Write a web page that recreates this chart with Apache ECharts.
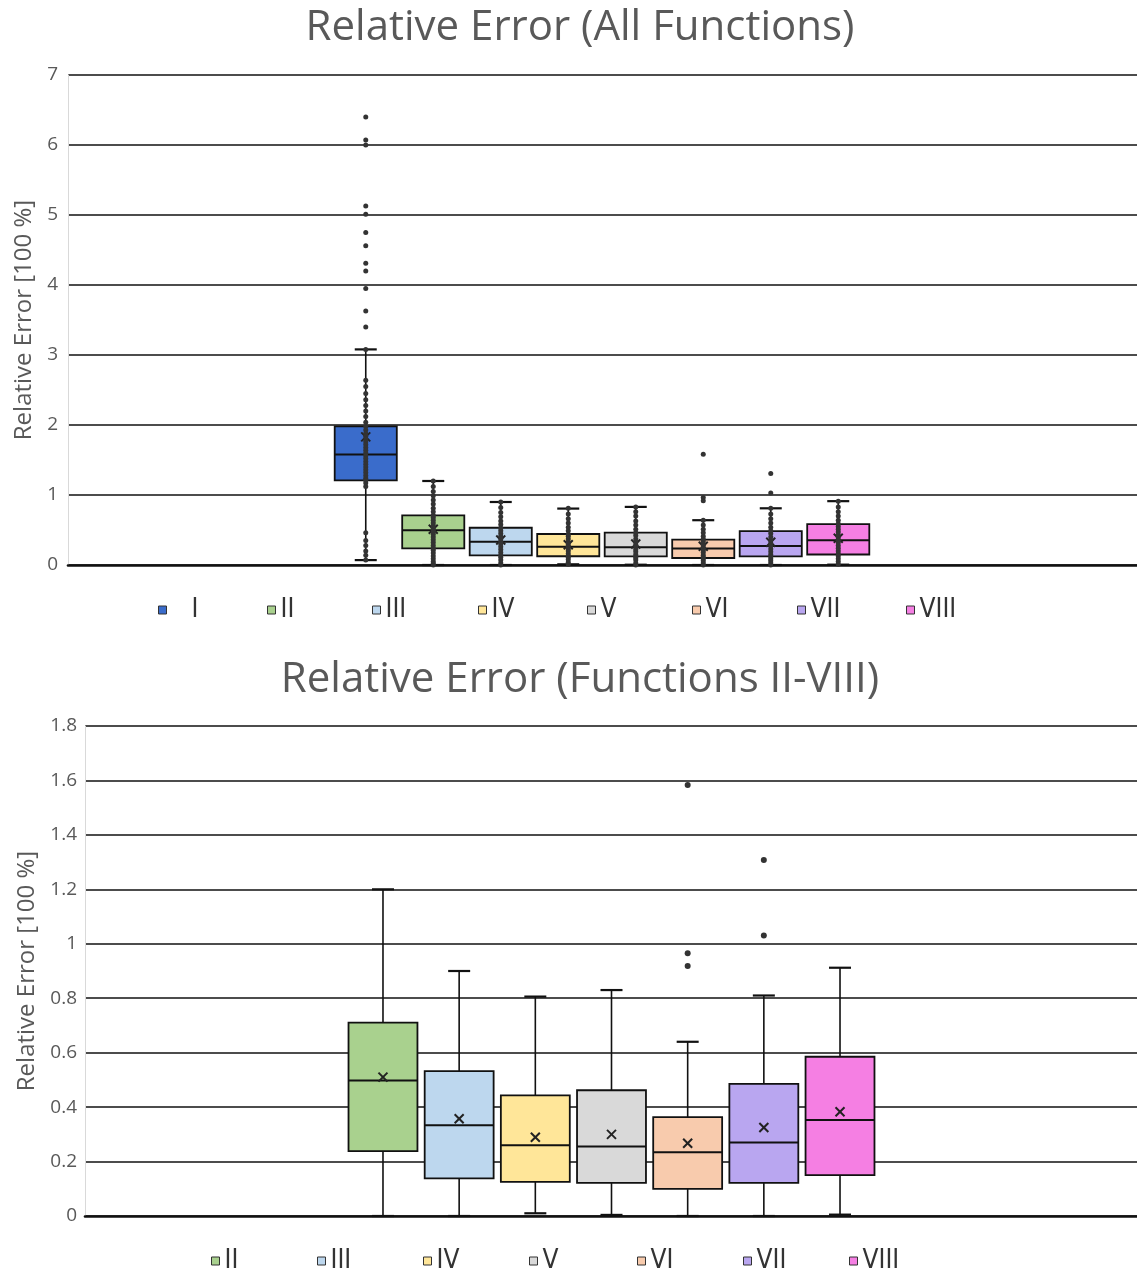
<!DOCTYPE html>
<html>
<head>
<meta charset="utf-8">
<script src="https://cdn.jsdelivr.net/npm/echarts@6/dist/echarts.min.js"></script>
<style>html,body{margin:0;padding:0;background:#fff;}#c{width:1137px;height:1273px;}</style>
</head>
<body>
<div id="c"></div>
<script>
// ---------- data ----------
const catsTop = ['I', 'II', 'III', 'IV', 'V', 'VI', 'VII', 'VIII'];
const catsBottom = ['II', 'III', 'IV', 'V', 'VI', 'VII', 'VIII'];
// [lower whisker, Q1, median, Q3, upper whisker]
const boxStats = [
  [0.07, 1.21, 1.58, 1.98, 3.08],
  [0.00, 0.238, 0.498, 0.71, 1.20],
  [0.00, 0.138, 0.333, 0.532, 0.90],
  [0.01, 0.125, 0.26, 0.443, 0.806],
  [0.004, 0.122, 0.255, 0.462, 0.83],
  [0.00, 0.10, 0.234, 0.363, 0.64],
  [0.00, 0.122, 0.27, 0.485, 0.81],
  [0.005, 0.15, 0.353, 0.585, 0.912]
];
const means = [1.83, 0.51, 0.357, 0.289, 0.30, 0.267, 0.325, 0.383];
const outliers = [
  [3.40, 3.63, 3.95, 4.20, 4.31, 4.56, 4.75, 5.01, 5.13, 6.00, 6.07, 6.40],
  [], [], [], [],
  [0.918, 0.965, 1.583],
  [1.03, 1.308],
  []
];
const innerPoints = [
  [3.08, 2.64, 2.55, 2.45, 2.36, 2.28, 2.20, 2.12, 2.04, 1.98, 1.93, 1.88, 1.84, 1.80, 1.76, 1.72, 1.68, 1.64, 1.60, 1.56, 1.52, 1.48, 1.44, 1.40, 1.36, 1.32, 1.28, 1.24, 1.21, 1.17, 1.12, 0.46, 0.35, 0.28, 0.20, 0.14, 0.07],
  [0.00, 0.02, 0.05, 0.09, 0.13, 0.17, 0.21, 0.24, 0.28, 0.32, 0.36, 0.40, 0.44, 0.47, 0.50, 0.53, 0.56, 0.60, 0.64, 0.68, 0.71, 0.76, 0.81, 0.87, 0.93, 0.99, 1.05, 1.12, 1.20],
  [0.00, 0.03, 0.07, 0.11, 0.14, 0.18, 0.22, 0.26, 0.30, 0.33, 0.37, 0.41, 0.45, 0.49, 0.53, 0.58, 0.63, 0.69, 0.75, 0.82, 0.90],
  [0.01, 0.04, 0.08, 0.11, 0.13, 0.16, 0.20, 0.23, 0.26, 0.29, 0.33, 0.37, 0.41, 0.44, 0.49, 0.54, 0.60, 0.66, 0.73, 0.81],
  [0.00, 0.03, 0.07, 0.10, 0.12, 0.15, 0.19, 0.22, 0.26, 0.29, 0.33, 0.37, 0.42, 0.46, 0.51, 0.57, 0.63, 0.70, 0.76, 0.83],
  [0.00, 0.03, 0.06, 0.09, 0.11, 0.14, 0.18, 0.21, 0.24, 0.27, 0.30, 0.34, 0.37, 0.41, 0.46, 0.51, 0.57, 0.64],
  [0.00, 0.03, 0.06, 0.09, 0.12, 0.15, 0.19, 0.23, 0.27, 0.31, 0.35, 0.40, 0.45, 0.49, 0.54, 0.60, 0.66, 0.73, 0.81],
  [0.01, 0.05, 0.09, 0.13, 0.16, 0.20, 0.24, 0.28, 0.32, 0.35, 0.39, 0.43, 0.47, 0.51, 0.55, 0.59, 0.64, 0.70, 0.76, 0.83, 0.91]
];
const yTicksTop = {min: 0, max: 7, interval: 1};
const yTicksBottom = {min: 0, max: 1.8, interval: 0.2};
const titleTop = 'Relative Error (All Functions)';
const titleBottom = 'Relative Error (Functions II-VIII)';
const yName = 'Relative Error [100 %]';

// ---------- styles / layout ----------
const colors = ['#3A6CCB', '#A9D18E', '#BDD7EE', '#FFE699', '#D9D9D9', '#F8CBAD', '#B9A6F0', '#F57FE3'];
const FONT = '"Open Sans", Lato, sans-serif';
const GREY = '#595959';
const INK = '#111111';
const legendLeftTop = [153, 262, 367, 473, 582, 687, 792, 901];
const legendLeftBottom = [206, 312, 418, 524, 632, 738, 844];

function makeRender(frac, cap) {
  return function (params, api) {
    const x = api.value(0);
    const lo = api.coord([x, api.value(1)]);
    const q1 = api.coord([x, api.value(2)]);
    const md = api.coord([x, api.value(3)]);
    const q3 = api.coord([x, api.value(4)]);
    const hi = api.coord([x, api.value(5)]);
    const mn = api.coord([x, api.value(6)]);
    const bw = api.size([1, 0])[0] * frac;
    const cx = md[0], h = bw / 2, k = 4.5;
    const fill = api.visual('color');
    const ln = {stroke: INK, lineWidth: 1.6};
    const capSt = {stroke: INK, lineWidth: 2.2};
    return {type: 'group', children: [
      {type: 'line', shape: {x1: cx, y1: hi[1], x2: cx, y2: q3[1]}, style: ln},
      {type: 'line', shape: {x1: cx - cap, y1: hi[1], x2: cx + cap, y2: hi[1]}, style: capSt},
      {type: 'line', shape: {x1: cx, y1: q1[1], x2: cx, y2: lo[1]}, style: ln},
      {type: 'line', shape: {x1: cx - cap, y1: lo[1], x2: cx + cap, y2: lo[1]}, style: capSt},
      {type: 'rect', shape: {x: cx - h, y: q3[1], width: bw, height: q1[1] - q3[1]}, style: {fill: fill, stroke: INK, lineWidth: 1.8}},
      {type: 'line', shape: {x1: cx - h, y1: md[1], x2: cx + h, y2: md[1]}, style: {stroke: INK, lineWidth: 2}},
      {type: 'line', shape: {x1: cx - k, y1: mn[1] - k, x2: cx + k, y2: mn[1] + k}, style: {stroke: '#222', lineWidth: 2}},
      {type: 'line', shape: {x1: cx - k, y1: mn[1] + k, x2: cx + k, y2: mn[1] - k}, style: {stroke: '#222', lineWidth: 2}}
    ]};
  };
}

function yAxisMain(gridIndex, ticks, gap, margin) {
  return {
    gridIndex: gridIndex, type: 'value', min: ticks.min, max: ticks.max, interval: ticks.interval,
    name: yName, nameLocation: 'middle', nameGap: gap, nameRotate: 90,
    nameTextStyle: {fontFamily: FONT, fontSize: 24, color: GREY},
    axisLine: {show: true, lineStyle: {color: '#d9d9d9', width: 1}},
    axisTick: {show: false},
    axisLabel: {fontFamily: FONT, fontSize: 19, color: GREY, margin: margin},
    splitLine: {show: true, lineStyle: {color: INK, width: 1.7}}
  };
}
function yAxisHidden(gridIndex, ticks) {
  return {gridIndex: gridIndex, type: 'value', min: ticks.min, max: ticks.max, show: false, splitLine: {show: false}};
}
function xAxisBase(gridIndex) {
  return {gridIndex: gridIndex, type: 'value', show: true, min: 0, max: 1,
    axisLine: {show: true, lineStyle: {color: INK, width: 2.6}},
    axisLabel: {show: false}, axisTick: {show: false}, splitLine: {show: false}};
}

const series = [];
catsTop.forEach(function (name, i) {
  series.push({
    name: name, type: 'custom', xAxisIndex: 1, yAxisIndex: 1,
    itemStyle: {color: colors[i]},
    renderItem: makeRender(0.92, 11),
    data: [[i].concat(boxStats[i], [means[i]])],
    z: 3
  });
});
const topPts = [];
catsTop.forEach(function (name, i) {
  innerPoints[i].forEach(function (v) { topPts.push([i, v]); });
  outliers[i].forEach(function (v) { topPts.push([i, v]); });
});
series.push({
  name: 'pointsTop', type: 'scatter', xAxisIndex: 1, yAxisIndex: 1,
  symbol: 'circle', symbolSize: 5,
  itemStyle: {color: '#333333', opacity: 1},
  data: topPts, z: 5
});
catsBottom.forEach(function (name, j) {
  const i = catsTop.indexOf(name);
  series.push({
    name: name, type: 'custom', xAxisIndex: 3, yAxisIndex: 3,
    itemStyle: {color: colors[i]},
    renderItem: makeRender(0.905, 11),
    data: [[j].concat(boxStats[i], [means[i]])],
    z: 3
  });
});
const botPts = [];
catsBottom.forEach(function (name, j) {
  const i = catsTop.indexOf(name);
  outliers[i].forEach(function (v) { botPts.push([j, v]); });
});
series.push({
  name: 'pointsBottom', type: 'scatter', xAxisIndex: 3, yAxisIndex: 3,
  symbol: 'circle', symbolSize: 6,
  itemStyle: {color: '#333333', opacity: 1},
  data: botPts, z: 5
});

const legendFont = '"Liberation Sans Narrow", "DejaVu Sans Condensed", "Arial Narrow", sans-serif';
function makeLegend(name, left, top, pad) {
  return {
    data: [name], left: left, top: top, orient: 'horizontal', icon: 'rect',
    itemWidth: 8, itemHeight: 8, selectedMode: false,
    itemStyle: {borderColor: '#333', borderWidth: 1},
    textStyle: {fontFamily: legendFont, fontSize: 26, color: '#333', padding: [0, 0, 0, pad]}
  };
}
const legends = [];
catsTop.forEach(function (n, i) { legends.push(makeLegend(n, legendLeftTop[i], 592, i === 0 ? 20 : 0)); });
catsBottom.forEach(function (n, i) { legends.push(makeLegend(n, legendLeftBottom[i], 1243, 0)); });

const option = {
  backgroundColor: '#ffffff',
  animation: false,
  title: [
    {text: titleTop, left: 575, textAlign: 'center', top: 2,
      textStyle: {fontFamily: FONT, fontSize: 42, fontWeight: 'normal', color: GREY}},
    {text: titleBottom, left: 575, textAlign: 'center', top: 654,
      textStyle: {fontFamily: FONT, fontSize: 42, fontWeight: 'normal', color: GREY}}
  ],
  legend: legends,
  grid: [
    {left: 68, top: 75, width: 1069, height: 490},
    {left: 332, top: 75, width: 540, height: 490},
    {left: 85, top: 726, width: 1052, height: 490},
    {left: 344.9, top: 726, width: 533.2, height: 490}
  ],
  xAxis: [
    xAxisBase(0),
    {gridIndex: 1, type: 'category', data: catsTop, show: false},
    xAxisBase(2),
    {gridIndex: 3, type: 'category', data: catsBottom, show: false}
  ],
  yAxis: [
    yAxisMain(0, yTicksTop, 30, 10),
    yAxisHidden(1, yTicksTop),
    yAxisMain(2, yTicksBottom, 46, 8),
    yAxisHidden(3, yTicksBottom)
  ],
  series: series
};

const chart = echarts.init(document.getElementById('c'), null, {renderer: 'canvas'});
chart.setOption(option);
</script>
</body>
</html>
